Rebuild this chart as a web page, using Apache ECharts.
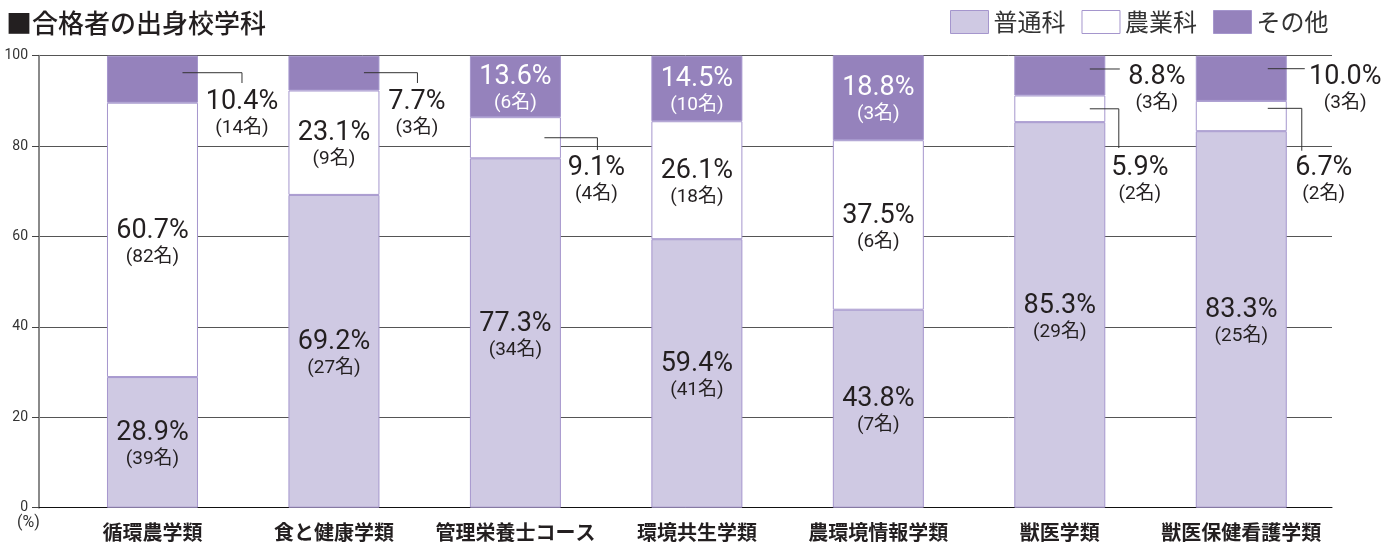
<!DOCTYPE html>
<html>
<head>
<meta charset="utf-8">
<script src="https://cdn.jsdelivr.net/npm/echarts@6/dist/echarts.min.js"></script>
<style>
  html, body { margin: 0; padding: 0; background: #fff; }
  #chart { width: 1384px; height: 544px; }
</style>
</head>
<body>
<div id="chart"></div>
<script>
const categories = ['循環農学類', '食と健康学類', '管理栄養士コース', '環境共生学類', '農環境情報学類', '獣医学類', '獣医保健看護学類'];
const seriesNames = ['普通科', '農業科', 'その他'];
const futsuPct = [28.9, 69.2, 77.3, 59.4, 43.8, 85.3, 83.3];
const nogyoPct = [60.7, 23.1, 9.1, 26.1, 37.5, 5.9, 6.7];
const sonotaPct = [10.4, 7.7, 13.6, 14.5, 18.8, 8.8, 10.0];
const futsuCount = [39, 27, 34, 41, 7, 29, 25];
const nogyoCount = [82, 9, 4, 18, 6, 2, 2];
const sonotaCount = [14, 3, 6, 10, 3, 3, 3];
const yTicks = [0, 20, 40, 60, 80, 100];

const pcts = [futsuPct, nogyoPct, sonotaPct];
const counts = [futsuCount, nogyoCount, sonotaCount];
const fills = ['#cfc9e3', '#ffffff', '#9582bc'];
const border = '#a596cd';
const textColor = '#231f20';
const numFont = 'Roboto, "Noto Sans CJK JP", sans-serif';

// segments labelled outside the bar, with a leader line
// offsets are px from (bar centre, middle of the segment)
const callouts = [
  { cat: 0, s: 2, lineY: -6.5, x0: 30, elbowX: 89.5, dropY: 3.8, labelX: 89.5, labelY: 22.8 },
  { cat: 1, s: 2, lineY: -0.4, x0: 30, elbowX: 83.5, dropY: 9.9, labelX: 83, labelY: 28.9 },
  { cat: 2, s: 1, lineY: 0, x0: 29, elbowX: 82, dropY: 12.3, labelX: 81, labelY: 30.3 },
  { cat: 5, s: 2, lineY: -6.6, x0: 30, elbowX: 60, dropY: null, labelX: 97, labelY: 1.4 },
  { cat: 5, s: 1, lineY: 0, x0: 30, elbowX: 59, dropY: 39.2, labelX: 80, labelY: 59.2 },
  { cat: 6, s: 2, lineY: -9.6, x0: 26.5, elbowX: 63.5, dropY: null, labelX: 104, labelY: -1.3 },
  { cat: 6, s: 1, lineY: -7.7, x0: 26.5, elbowX: 60.5, dropY: 34.7, labelX: 82.5, labelY: 52 }
];
const isCallout = (s, i) => callouts.some(c => c.s === s && c.cat === i);

const labelRich = color => ({
  p: { fontSize: 27, fontFamily: numFont, color: color, lineHeight: 26 },
  n: { fontSize: 19, fontFamily: numFont, color: color, lineHeight: 26 }
});

const barSeries = seriesNames.map((name, s) => ({
  name: name,
  type: 'bar',
  stack: 'total',
  xAxisIndex: 1,
  yAxisIndex: 1,
  barWidth: 91,
  itemStyle: { color: fills[s], borderColor: border, borderWidth: 1 },
  label: {
    show: true,
    position: 'inside',
    offset: [0, 4],
    formatter: p => '{p|' + p.value.toFixed(1) + '%}\n{n|(' + counts[s][p.dataIndex] + '名)}',
    rich: labelRich(s === 2 ? '#ffffff' : textColor)
  },
  data: pcts[s].map((v, i) => isCallout(s, i) ? { value: v, label: { show: false } } : v)
}));

const calloutData = callouts.map(c => {
  let base = 0;
  for (let k = 0; k < c.s; k++) base += pcts[k][c.cat];
  const v = pcts[c.s][c.cat];
  return [c.cat, base + v / 2, v, counts[c.s][c.cat]];
});

const calloutSeries = {
  type: 'custom',
  xAxisIndex: 1,
  yAxisIndex: 1,
  z: 10,
  silent: true,
  clip: false,
  data: calloutData,
  renderItem: (params, api) => {
    const c = callouts[params.dataIndex];
    const pt = api.coord([api.value(0), api.value(1)]);
    const cx = pt[0], my = pt[1];
    const ly = my + c.lineY;
    const pts = [[cx + c.x0, ly], [cx + c.elbowX, ly]];
    if (c.dropY != null) pts.push([cx + c.elbowX, my + c.dropY]);
    return {
      type: 'group',
      children: [
        { type: 'polyline', shape: { points: pts }, style: { stroke: '#333', lineWidth: 1, fill: null } },
        { type: 'text', x: cx + c.labelX, y: my + c.labelY,
          style: { text: api.value(2).toFixed(1) + '%', fontSize: 27, fontFamily: numFont, fill: textColor, align: 'center', verticalAlign: 'middle' } },
        { type: 'text', x: cx + c.labelX, y: my + c.labelY + 26,
          style: { text: '(' + api.value(3) + '名)', fontSize: 19, fontFamily: numFont, fill: textColor, align: 'center', verticalAlign: 'middle' } }
      ]
    };
  }
};

const chart = echarts.init(document.getElementById('chart'));
chart.setOption({
  animation: false,
  backgroundColor: '#fff',
  textStyle: { fontFamily: '"Noto Sans CJK JP", sans-serif' },
  title: {
    text: '■合格者の出身校学科',
    left: 6,
    top: 10,
    padding: 0,
    textStyle: { fontSize: 26, fontWeight: 500, color: textColor, fontFamily: '"Noto Sans CJK JP", sans-serif' }
  },
  legend: {
    data: seriesNames,
    left: 950,
    top: 10,
    padding: 0,
    icon: 'rect',
    itemWidth: 38,
    itemHeight: 23,
    itemGap: 16,
    itemStyle: { borderColor: border, borderWidth: 1 },
    textStyle: { fontSize: 24, color: '#333', padding: [0, 0, 0, 0] }
  },
  graphic: [{
    type: 'text', left: 17, top: 515,
    style: { text: '(%)', fontSize: 16, fontFamily: numFont, fill: '#333' }
  }],
  grid: [
    { left: 39, right: 52, top: 55.7, bottom: 36.3 },
    { left: 61.75, right: 52, top: 55.7, bottom: 36.3 }
  ],
  xAxis: [
    { type: 'value', gridIndex: 0, min: 0, max: 1, show: true,
      axisLine: { show: true, lineStyle: { color: '#111', width: 1 } },
      axisTick: { show: false }, axisLabel: { show: false }, splitLine: { show: false } },
    { type: 'category', gridIndex: 1, data: categories,
      axisLine: { show: false }, axisTick: { show: false },
      axisLabel: { interval: 0, fontSize: 20, fontWeight: 'bold', color: textColor, margin: 15 } }
  ],
  yAxis: [
    { type: 'value', gridIndex: 0, min: yTicks[0], max: yTicks[yTicks.length - 1], interval: yTicks[1] - yTicks[0],
      axisLine: { show: true, lineStyle: { color: '#8a8a8a', width: 2 } },
      axisTick: { show: true, length: 7, lineStyle: { color: '#444' } },
      axisLabel: { fontSize: 14, fontFamily: numFont, color: '#333', margin: 11 },
      splitLine: { show: true, lineStyle: { color: '#555', width: 1 } } },
    { type: 'value', gridIndex: 1, min: 0, max: 100, show: false }
  ],
  series: [...barSeries, calloutSeries]
});
</script>
</body>
</html>
